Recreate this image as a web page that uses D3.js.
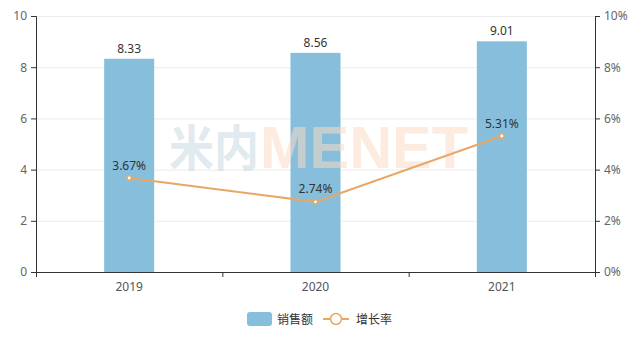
<!DOCTYPE html>
<html><head><meta charset="utf-8">
<script src="https://cdn.jsdelivr.net/npm/d3@7/dist/d3.min.js"></script>
<style>html,body{margin:0;padding:0;background:#fff;}svg{display:block;font-family:"Noto Sans CJK SC","Noto Sans",sans-serif;}</style>
</head><body>
<svg id="c" width="642" height="339"></svg>
<script>
const categories = ["2019", "2020", "2021"];
const sales = [8.33, 8.56, 9.01];
const growth = [3.67, 2.74, 5.31];
const leftTicks = [0, 2, 4, 6, 8, 10];
const rightTicks = [0, 2, 4, 6, 8, 10];
const seriesNames = ["销售额", "增长率"];

const W = 642, H = 339;
const m = {l: 36, r: 47, t: 16, b: 67};
const svg = d3.select("#c");
const barColor = "#86BEDC", lineColor = "#E8A765";
const numFont = '"Noto Sans","Noto Sans CJK SC",sans-serif';

const x = d3.scaleBand().domain(categories).range([m.l, W - m.r]).paddingInner(0).paddingOuter(0);
const yL = d3.scaleLinear().domain([0, 10]).range([H - m.b, m.t]);
const yR = d3.scaleLinear().domain([0, 10]).range([H - m.b, m.t]);

// grid
svg.append("g").selectAll("line").data(leftTicks.slice(1)).join("line")
  .attr("x1", m.l).attr("x2", W - m.r)
  .attr("y1", d => yL(d) + 0.5).attr("y2", d => yL(d) + 0.5)
  .attr("stroke", "#EBEBEB").attr("stroke-width", 1);

// bars
const bw = 50;
svg.append("g").selectAll("rect").data(categories).join("rect")
  .attr("x", (d, i) => x(d) + x.bandwidth() / 2 - bw / 2)
  .attr("width", bw)
  .attr("y", (d, i) => yL(sales[i]))
  .attr("height", (d, i) => yL(0) - yL(sales[i]))
  .attr("fill", barColor);

// watermark
const wm = svg.append("g").attr("opacity", 0.55).attr("font-weight", "bold");
wm.append("text").attr("transform", "translate(169,166) scale(1,1.1)").attr("font-size", 44)
  .attr("fill", "#C9D9E3").attr("textLength", 90).attr("lengthAdjust", "spacingAndGlyphs").text("米内");
wm.append("text").attr("transform", "translate(260,168) scale(1,1.1)").attr("font-size", 54)
  .attr("font-family", '"Liberation Sans",sans-serif')
  .attr("fill", "#FADCC4").attr("textLength", 208).attr("lengthAdjust", "spacingAndGlyphs").text("MENET");

// bar labels
svg.append("g").selectAll("text").data(categories).join("text")
  .attr("x", d => x(d) + x.bandwidth() / 2)
  .attr("y", (d, i) => yL(sales[i]) - 6)
  .attr("text-anchor", "middle").attr("font-size", 12).attr("fill", "#333").attr("font-family", numFont)
  .text((d, i) => sales[i].toFixed(2));

// axes
const axL = svg.append("g").attr("transform", `translate(${m.l},0)`)
  .call(d3.axisLeft(yL).tickValues(leftTicks).tickSize(5).tickPadding(4).tickFormat(d3.format("d")));
const axR = svg.append("g").attr("transform", `translate(${W - m.r},0)`)
  .call(d3.axisRight(yR).tickValues(rightTicks).tickSize(5).tickPadding(4).tickFormat(d => d + "%"));
const axB = svg.append("g").attr("transform", `translate(0,${H - m.b})`)
  .call(d3.axisBottom(x).tickSize(0).tickPadding(10));
const bounds = categories.map(d => x(d)).concat([x(categories[categories.length - 1]) + x.bandwidth()]);
axB.selectAll("line.bt").data(bounds).join("line").attr("class", "bt")
  .attr("x1", d => d + 0.5).attr("x2", d => d + 0.5).attr("y1", 0).attr("y2", 5).attr("stroke", "#333");
[axL, axR, axB].forEach(a => {
  a.selectAll(".domain").attr("stroke", "#333");
  a.selectAll(".tick line").attr("stroke", "#333");
  a.selectAll("text").attr("font-size", 12).attr("fill", "#666").attr("font-family", numFont);
});
axB.selectAll("text").attr("fill", "#555");

// line
const line = d3.line().x((d, i) => x(categories[i]) + x.bandwidth() / 2).y(d => yR(d));
svg.append("path").datum(growth).attr("d", line).attr("fill", "none")
  .attr("stroke", lineColor).attr("stroke-width", 2);
svg.append("g").selectAll("circle").data(growth).join("circle")
  .attr("cx", (d, i) => x(categories[i]) + x.bandwidth() / 2).attr("cy", d => yR(d))
  .attr("r", 2.2).attr("fill", "#fff").attr("stroke", lineColor).attr("stroke-width", 1.5);
svg.append("g").selectAll("text").data(growth).join("text")
  .attr("x", (d, i) => x(categories[i]) + x.bandwidth() / 2).attr("y", d => yR(d) - 8.5)
  .attr("text-anchor", "middle").attr("font-size", 12).attr("fill", "#333").attr("font-family", numFont)
  .text(d => d.toFixed(2) + "%");

// legend
const lg = svg.append("g");
lg.append("rect").attr("x", 247).attr("y", 312).attr("width", 25).attr("height", 14).attr("rx", 3).attr("fill", barColor);
lg.append("text").attr("x", 277).attr("y", 323.5).attr("font-size", 12).attr("fill", "#333").text(seriesNames[0]);
lg.append("line").attr("x1", 323).attr("x2", 349).attr("y1", 319).attr("y2", 319).attr("stroke", lineColor).attr("stroke-width", 2);
lg.append("circle").attr("cx", 336).attr("cy", 319).attr("r", 5.5).attr("fill", "#fff").attr("stroke", lineColor).attr("stroke-width", 1.5);
lg.append("text").attr("x", 356).attr("y", 323.5).attr("font-size", 12).attr("fill", "#333").text(seriesNames[1]);
</script>
</body></html>
